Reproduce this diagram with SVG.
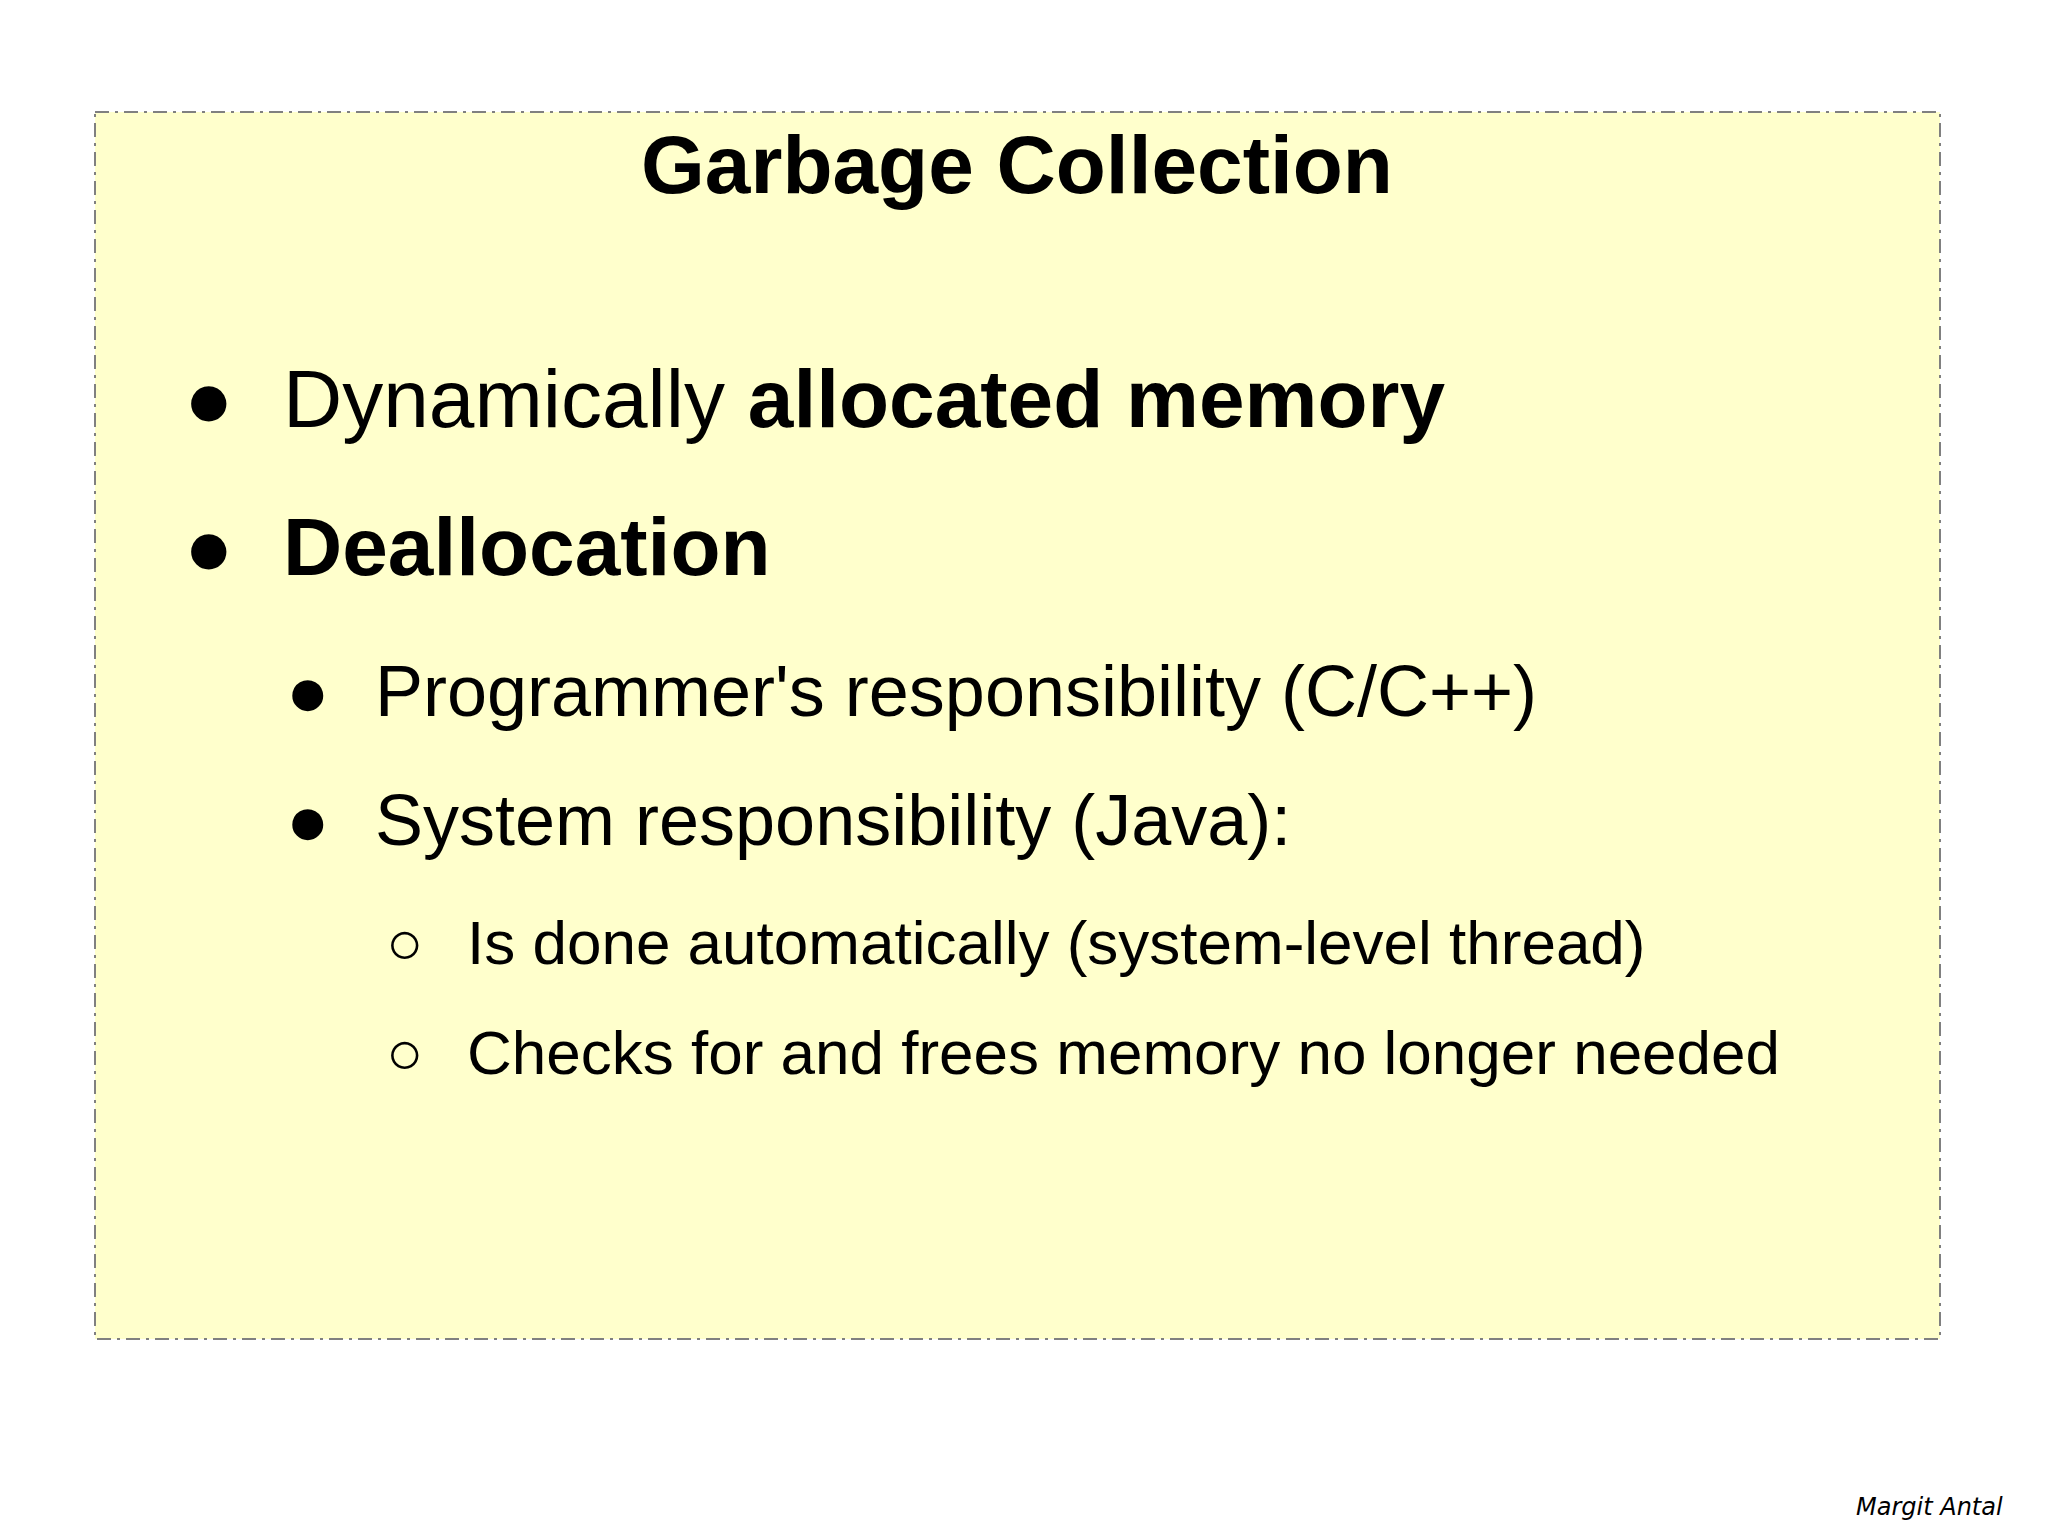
<svg xmlns="http://www.w3.org/2000/svg" width="2048" height="1537" viewBox="0 0 2048 1537">
<style>
text{font-family:"Liberation Sans",Arial,sans-serif;fill:#000}
.b{font-weight:bold}
.l1{font-size:82px}
.l2{font-size:72px}
.l3{font-size:62px}
</style>
<rect width="2048" height="1537" fill="#fff"/>
<g id="panel">
<rect x="95" y="112" width="1845" height="1227" fill="#ffffcc" stroke="#808080" stroke-width="2" stroke-dasharray="14,6,3,6"/>
</g>
<g id="title"><text x="1017" y="193" text-anchor="middle" class="b" font-size="82">Garbage Collection</text></g>
<g id="items">
<text x="184" y="427" class="l1">●</text>
<text x="283" y="427" class="l1">Dynamically <tspan class="b">allocated memory</tspan></text>
<text x="184" y="575" class="l1">●</text>
<text x="283" y="575" class="l1 b">Deallocation</text>
<text x="286" y="716" class="l2">●</text>
<text x="375" y="716" class="l2">Programmer's responsibility (C/C++)</text>
<text x="286" y="845" class="l2">●</text>
<text x="375" y="845" class="l2">System responsibility (Java):</text>
<text x="386" y="964" class="l3">○</text>
<text x="467" y="964" class="l3">Is done automatically (system-level thread)</text>
<text x="386" y="1074" class="l3">○</text>
<text x="467" y="1074" class="l3">Checks for and frees memory no longer needed</text>
</g>
<g id="signature"><text x="1856" y="1515" font-size="24" font-style="italic" style="font-family:'DejaVu Sans',sans-serif">Margit Antal</text></g>
</svg>
